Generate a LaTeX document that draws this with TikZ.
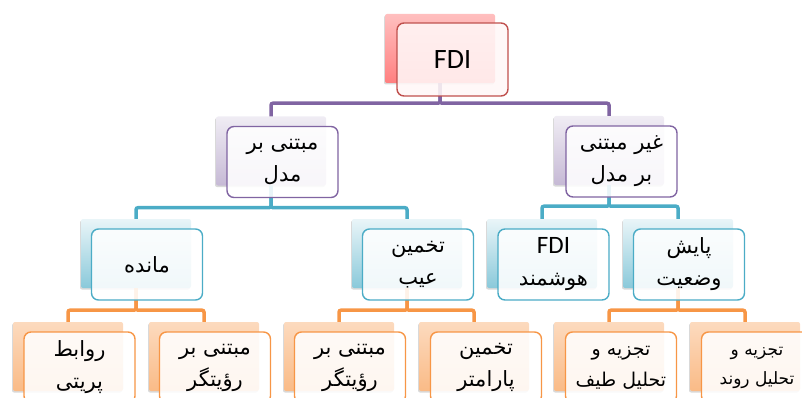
\documentclass[tikz,border=0pt]{standalone}
\usepackage{fontspec}
\setmainfont{Carlito}
\newfontfamily\latinfont{Carlito}
\newfontfamily\farsi[Script=Arabic]{DejaVu Sans}
\TeXXeTstate=1
\usetikzlibrary{shadows}
\newcommand{\faline}[1]{\beginR #1\endR}

\definecolor{redline}{HTML}{C0504D}
\definecolor{purpleline}{HTML}{8064A2}
\definecolor{tealline}{HTML}{4BACC6}
\definecolor{orangeline}{HTML}{F79646}

\tikzset{
	back/.style={rounded corners=2pt,minimum width=110pt,minimum height=69pt,inner sep=0pt,
		drop shadow={opacity=0.3,shadow xshift=-1pt,shadow yshift=-1.5pt}},
	front/.style={rounded corners=7pt,line width=1.4pt,minimum width=111pt,minimum height=71pt,
		inner sep=0pt,fill=white,fill opacity=0.88,text opacity=1,align=center,
		font=\farsi\fontsize{21}{32}\selectfont},
	rootback/.style={back,top color=red!25,bottom color=red!50},
	lvlaback/.style={back,top color=purpleline!12,bottom color=purpleline!45},
	lvlbback/.style={back,top color=tealline!12,bottom color=tealline!65},
	lvlcback/.style={back,top color=orangeline!35,bottom color=orangeline!65},
	bus/.style={line width=3.5pt,rounded corners=2pt}
}

\begin{document}
\begin{tikzpicture}[x=1pt,y=-1pt]
	\useasboundingbox (0,0) rectangle (802,398);
	% back boxes
	\node[rootback](fdi) at (440,48.5){};
	\node[lvlaback](model) at (271,151){};
	\node[lvlaback](nonmodel) at (609,150.5){};
	\node[lvlbback](residual) at (136,253.5){};
	\node[lvlbback](faultest) at (407,253.5){};
	\node[lvlbback](smartfdi) at (542,253.5){};
	\node[lvlbback](monitor) at (678,253.5){};
	\node[lvlcback](parity) at (68,356.5){};
	\node[lvlcback](observera) at (204,356.5){};
	\node[lvlcback](observerb) at (339,356.5){};
	\node[lvlcback](paramest) at (474,356.5){};
	\node[lvlcback](spectrum) at (609,356.5){};
	\node[lvlcback](trend) at (745,356.5){};
	% connectors
	\draw[bus,purpleline](fdi.south)--++(0,20)-|(model.north);
	\draw[bus,purpleline](fdi.south)--++(0,20)-|(nonmodel.north);
	\draw[bus,tealline](model.south)--++(0,22)-|(residual.north);
	\draw[bus,tealline](model.south)--++(0,22)-|(faultest.north);
	\draw[bus,tealline](nonmodel.south)--++(0,21)-|(smartfdi.north);
	\draw[bus,tealline](nonmodel.south)--++(0,21)-|(monitor.north);
	\draw[bus,orangeline](residual.south)--++(0,22)-|(parity.north);
	\draw[bus,orangeline](residual.south)--++(0,22)-|(observera.north);
	\draw[bus,orangeline](faultest.south)--++(0,22)-|(observerb.north);
	\draw[bus,orangeline](faultest.south)--++(0,22)-|(paramest.north);
	\draw[bus,orangeline](monitor.south)--++(0,22)-|(spectrum.north);
	\draw[bus,orangeline](monitor.south)--++(0,22)-|(trend.north);
	% front boxes
	\node[front,draw=redline,fill=red!3,minimum height=73pt,font=\latinfont\fontsize{28}{30}\selectfont](fdi-f) at ([shift={(12.5,11)}]fdi.center){FDI};
	\node[front,draw=purpleline](model-f) at ([shift={(11.5,11)}]model.center){\faline{مبتنی بر}\\\faline{مدل}};
	\node[front,draw=purpleline](nonmodel-f) at ([shift={(12.5,11)}]nonmodel.center){\faline{غیر مبتنی}\\\faline{بر مدل}};
	\node[front,draw=tealline](residual-f) at ([shift={(11,11)}]residual.center){\faline{مانده}};
	\node[front,draw=tealline](faultest-f) at ([shift={(11,11)}]faultest.center){\faline{تخمین}\\\faline{عیب}};
	\node[front,draw=tealline](smartfdi-f) at ([shift={(11.5,11)}]smartfdi.center){{\latinfont\fontsize{25}{32}\selectfont FDI}\\\faline{هوشمند}};
	\node[front,draw=tealline](monitor-f) at ([shift={(11,11)}]monitor.center){\faline{پایش}\\\faline{وضعیت}};
	\node[front,draw=orangeline](parity-f) at ([shift={(11.5,11)}]parity.center){\faline{روابط}\\\faline{پریتی}};
	\node[front,draw=orangeline](observera-f) at ([shift={(11,11)}]observera.center){\faline{مبتنی بر}\\\faline{رؤیتگر}};
	\node[front,draw=orangeline](observerb-f) at ([shift={(11,11)}]observerb.center){\faline{مبتنی بر}\\\faline{رؤیتگر}};
	\node[front,draw=orangeline](paramest-f) at ([shift={(12,11)}]paramest.center){\faline{تخمین}\\\faline{پارامتر}};
	\node[front,draw=orangeline,font=\farsi\fontsize{19}{31}\selectfont](spectrum-f) at ([shift={(12,11)}]spectrum.center){\faline{تجزیه و}\\\faline{تحلیل طیف}};
	\node[front,draw=orangeline,font=\farsi\fontsize{17}{29}\selectfont](trend-f) at ([shift={(12,11)}]trend.center){\faline{تجزیه و}\\\faline{تحلیل روند}};
\end{tikzpicture}
\end{document}
